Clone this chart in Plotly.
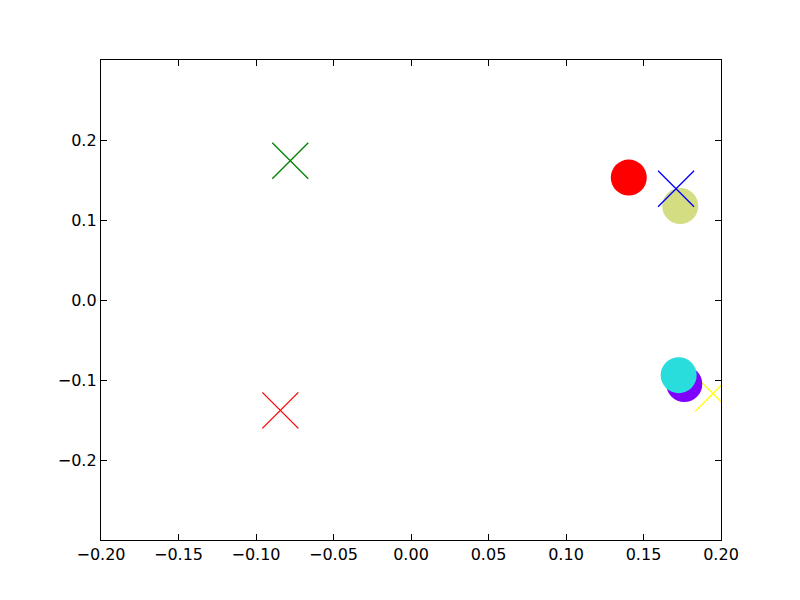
import plotly.graph_objects as go

# Points drawn in order (later ones on top)
xs = [0.1948, 0.1763, 0.1727, 0.1737, 0.171, 0.1405, -0.0779, -0.0843]
ys = [-0.117, -0.105, -0.094, 0.1175, 0.139, 0.153, 0.174, -0.138]
kinds = ["x", "o", "o", "o", "x", "o", "x", "x"]
colors = ["#ffff00", "#8000ff", "#2adddd", "#d4dd82", "#0000ff", "#ff0000", "#008000", "#ff0000"]

x_ticks = [-0.20, -0.15, -0.10, -0.05, 0.00, 0.05, 0.10, 0.15, 0.20]
y_ticks = [-0.2, -0.1, 0.0, 0.1, 0.2]


def fmt(v, d):
    s = f"{v:.{d}f}"
    return s.replace("-", "\u2212")


fig = go.Figure()
for x, y, k, c in zip(xs, ys, kinds, colors):
    if k == "o":
        marker = dict(symbol="circle", size=36, color=c, line=dict(width=0))
    else:
        marker = dict(symbol="x-thin", size=36, color=c, line=dict(width=1.3, color=c))
    fig.add_trace(go.Scatter(x=[x], y=[y], mode="markers", marker=marker,
                             showlegend=False, cliponaxis=True))

axis_common = dict(showgrid=False, zeroline=False, showline=True, linecolor="black",
                   linewidth=1.3, mirror="ticks", ticks="inside", ticklen=6,
                   tickcolor="black", tickwidth=1,
                   tickfont=dict(family="DejaVu Sans", size=16, color="black"))

fig.update_xaxes(range=[-0.2, 0.2], tickvals=x_ticks,
                 ticktext=[fmt(v, 2) for v in x_ticks], **axis_common)
fig.update_yaxes(range=[-0.3, 0.3], tickvals=y_ticks,
                 ticktext=[fmt(v, 1) for v in y_ticks], **axis_common)

fig.update_layout(width=800, height=600, margin=dict(l=93, r=87, t=52, b=68),
                  plot_bgcolor="white", paper_bgcolor="white")

fig.write_html("out.html")
